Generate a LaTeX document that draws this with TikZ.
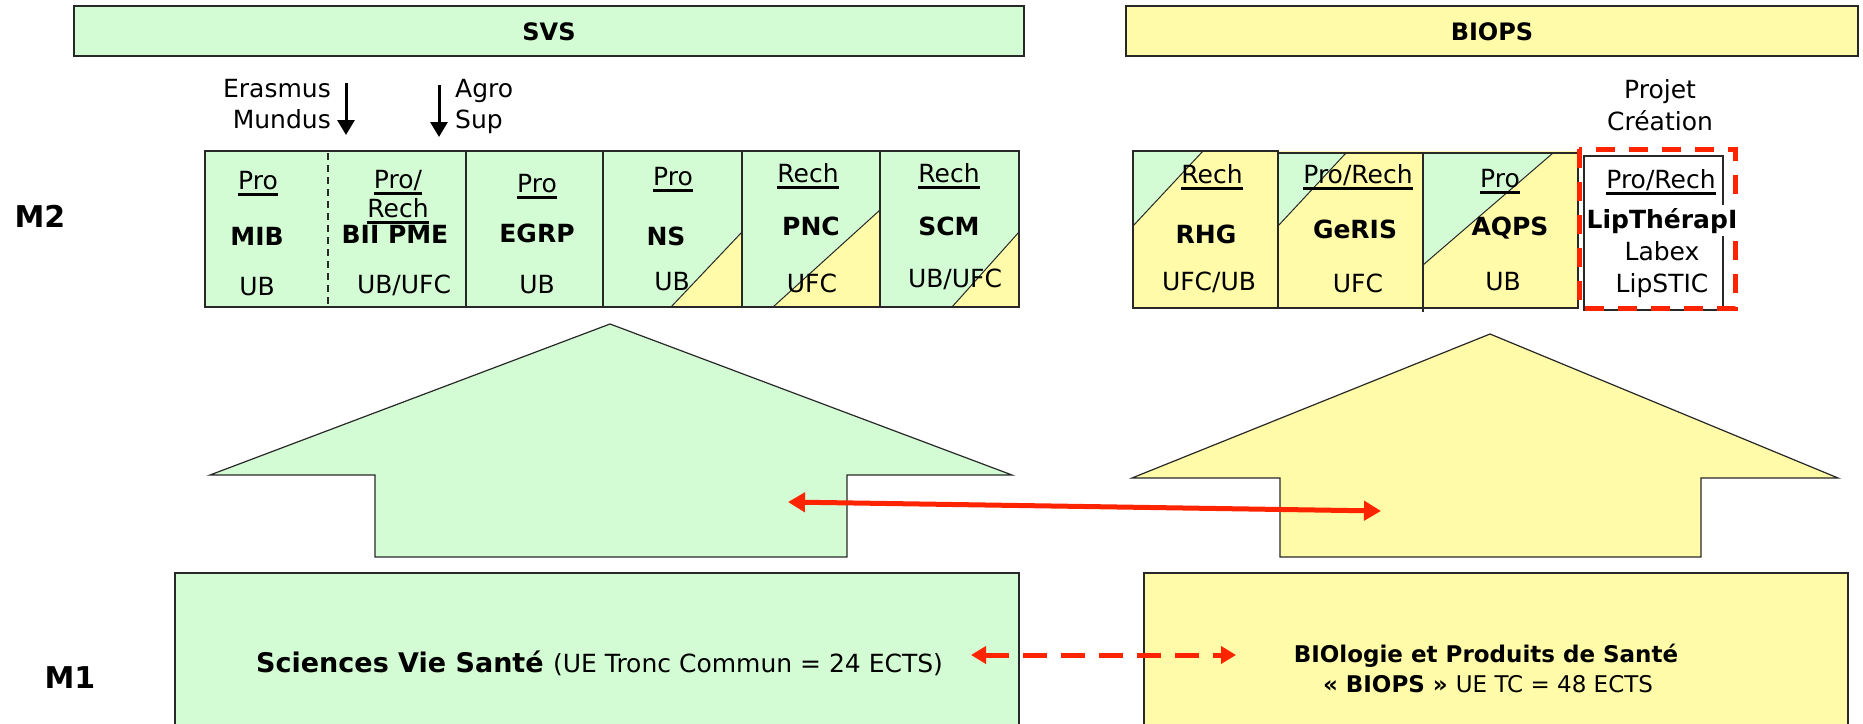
\documentclass[tikz,border=0pt]{standalone}
\usepackage{fontspec}
\setmainfont{DejaVu Sans}
\usetikzlibrary{arrows.meta}
\definecolor{gfill}{RGB}{212,252,212}
\definecolor{yfill}{RGB}{255,251,168}
\definecolor{redarr}{RGB}{255,36,0}
\definecolor{edge}{RGB}{40,40,40}
\newcommand\fsz[1]{\fontsize{#1}{#1}\selectfont}
\tikzset{
  cellbox/.style={draw=edge, line width=1.5pt},
  bigarrow/.style={draw=edge, line width=1.2pt},
  lbl/.style={anchor=base, inner sep=0pt, font=\fsz{25}},
  lblb/.style={anchor=base, inner sep=0pt, font=\fsz{25}\bfseries},
  ulline/.style={line width=3pt, black},
  diag/.style={draw=edge, line width=1pt},
  redsolid/.style={draw=redarr, line width=5pt, {Triangle[length=17pt,width=19pt]}-{Triangle[length=17pt,width=19pt]}},
  reddash/.style={draw=redarr, line width=5pt, dash pattern=on 24pt off 14pt, {Triangle[length=15pt,width=17pt]}-{Triangle[length=15pt,width=17pt]}},
  downarr/.style={draw=black, line width=3pt, -{Triangle[length=15pt,width=17pt]}},
}
\newcommand\ulnode[4]{%
  \node[lbl] (#1) at (#2,#3) {#4};
  \draw[ulline] ([yshift=-5pt]#1.base west) -- ([yshift=-5pt]#1.base east);}
\begin{document}
\begin{tikzpicture}[x=1pt,y=-1pt]
\useasboundingbox (0,0) rectangle (1863,723);
\clip (0,0) rectangle (1863,723);

% ---------- top bars ----------
\node[draw=edge, line width=2pt, fill=gfill, minimum width=950pt, minimum height=50pt, inner sep=0pt] (svsbar) at (549,31) {};
\node[font=\fsz{24}\bfseries, anchor=base] (svst) at (549,40) {SVS};
\node[draw=edge, line width=2pt, fill=yfill, minimum width=732pt, minimum height=50pt, inner sep=0pt] (biopsbar) at (1492,31) {};
\node[font=\fsz{24}\bfseries, anchor=base] (biopst) at (1492,40) {BIOPS};

% ---------- level labels ----------
\node[font=\fsz{30}\bfseries, anchor=base] (m2) at (40,227) {M2};
\node[font=\fsz{30}\bfseries, anchor=base] (m1) at (70,688) {M1};

% ---------- Erasmus / Agro ----------
\node[lbl, anchor=base east] (eras) at (331,97) {Erasmus};
\node[lbl, anchor=base east] (mund) at (331,128) {Mundus};
\coordinate (e1) at (346,83);
\coordinate (e2) at (346,135);
\draw[downarr] (e1) -- (e2);
\node[lbl, anchor=base west] (agro) at (455,97) {Agro};
\node[lbl, anchor=base west] (sup) at (455,128) {Sup};
\coordinate (a1) at (439,85);
\coordinate (a2) at (439,137);
\draw[downarr] (a1) -- (a2);

% ---------- SVS M2 cells ----------
\fill[gfill] (205,151) rectangle (1019,307);
\fill[yfill] (671,307) -- (742,232) -- (742,307) -- cycle;
\draw[diag] (671,307) -- (742,232);
\fill[yfill] (773,307) -- (880,210) -- (880,307) -- cycle;
\draw[diag] (773,307) -- (880,210);
\fill[yfill] (952,307) -- (1019,232) -- (1019,307) -- cycle;
\draw[diag] (952,307) -- (1019,232);
\draw[cellbox] (205,151) rectangle (466,307);
\draw[cellbox] (466,151) rectangle (603,307);
\draw[cellbox] (603,151) rectangle (742,307);
\draw[cellbox] (742,151) rectangle (880,307);
\draw[cellbox] (880,151) rectangle (1019,307);
\draw[draw=edge, line width=1.5pt, dash pattern=on 7pt off 5pt] (328,153) -- (328,306);

% MIB
\ulnode{mibp}{258}{189}{Pro}
\node[lblb] (mib) at (257,245) {MIB};
\node[lbl] (mibu) at (257,295) {UB};
% BII PME
\ulnode{biip}{398}{188}{Pro/}
\ulnode{biir}{398}{217}{Rech}
\node[lblb] (bii) at (395,243) {BII PME};
\node[lbl] (biiu) at (404,293) {UB/UFC};
% EGRP
\ulnode{egrpp}{537}{192}{Pro}
\node[lblb] (egrp) at (537,242) {EGRP};
\node[lbl] (egrpu) at (537,293) {UB};
% NS
\ulnode{nsp}{673}{185}{Pro}
\node[lblb] (ns) at (666,245) {NS};
\node[lbl] (nsu) at (672,290) {UB};
% PNC
\ulnode{pncr}{808}{182}{Rech}
\node[lblb] (pnc) at (811,235) {PNC};
\node[lbl] (pncu) at (812,292) {UFC};
% SCM
\ulnode{scmr}{949}{182}{Rech}
\node[lblb] (scm) at (949,235) {SCM};
\node[lbl] (scmu) at (955,287) {UB/UFC};

% ---------- BIOPS M2 cells ----------
\fill[yfill] (1133,151) rectangle (1578,308);
\fill[gfill] (1133,151) -- (1203,151) -- (1133,226) -- cycle;
\draw[diag] (1203,151) -- (1133,226);
\fill[gfill] (1278,153) -- (1346,153) -- (1278,226) -- cycle;
\draw[diag] (1346,153) -- (1278,226);
\fill[gfill] (1423,153) -- (1553,153) -- (1423,265) -- cycle;
\draw[diag] (1553,153) -- (1423,265);
\draw[cellbox] (1133,151) rectangle (1278,308);
\draw[cellbox] (1278,153) rectangle (1423,308);
\draw[cellbox] (1423,153) rectangle (1578,308);
\draw[cellbox] (1423,308) -- (1423,312);

% RHG
\ulnode{rhgr}{1212}{183}{Rech~}
\node[lblb] (rhg) at (1206,243) {RHG};
\node[lbl] (rhgu) at (1209,290) {UFC/UB};
% GeRIS
\ulnode{gerr}{1358}{183}{Pro/Rech~}
\node[lblb] (geris) at (1355,238) {GeRIS};
\node[lbl] (gerisu) at (1358,292) {UFC};
% AQPS
\ulnode{aqpp}{1500}{187}{Pro}
\node[lblb] (aqps) at (1510,235) {AQPS};
\node[lbl] (aqpsu) at (1503,290) {UB};

% ---------- Projet Creation ----------
\node[lbl] (proj) at (1660,98) {Projet};
\node[lbl] (crea) at (1660,130) {Création};
\draw[draw=edge, line width=1.2pt, fill=white] (1584,156) rectangle (1723,310);
\draw[draw=redarr, line width=5pt, dash pattern=on 19pt off 14pt] (1579,149) rectangle (1735,308);
\ulnode{lipr}{1661}{188}{Pro/Rech~}
\node[lblb, fill=white, inner ysep=3pt, inner xsep=1pt] (lipt) at (1662,228) {LipThérapI};
\node[lbl] (labex) at (1662,260) {Labex};
\node[lbl] (lips) at (1662,292) {LipSTIC};

% ---------- big arrows ----------
\draw[bigarrow, fill=gfill] (610,324) -- (1012,475) -- (847,475) -- (847,557) -- (375,557) -- (375,475) -- (210,475) -- cycle;
\draw[bigarrow, fill=yfill] (1490,334) -- (1838,478) -- (1701,478) -- (1701,557) -- (1280,557) -- (1280,478) -- (1132,478) -- cycle;
\coordinate (ga) at (788,502);
\coordinate (ya) at (1381,511);
\draw[redsolid] (ga) -- (ya);

% ---------- M1 boxes ----------
\draw[cellbox, fill=gfill] (175,573) rectangle (1019,740);
\node[anchor=base west, inner sep=0pt] (svstext) at (256,672) {\fsz{27}\bfseries Sciences Vie Santé \fsz{25}\mdseries(UE Tronc Commun = 24 ECTS)};
\draw[cellbox, fill=yfill] (1144,573) rectangle (1848,740);
\node[anchor=base, inner sep=0pt] (bio1) at (1486,662) {\fsz{23}\bfseries BIOlogie et Produits de Santé};
\node[anchor=base, inner sep=0pt] (bio2) at (1488,692) {\fsz{23}\bfseries « BIOPS » \mdseries UE TC = 48 ECTS};
\coordinate (d1) at (971,655);
\coordinate (d2) at (1236,655);
\draw[reddash] (d1) -- (d2);
\end{tikzpicture}
\end{document}
